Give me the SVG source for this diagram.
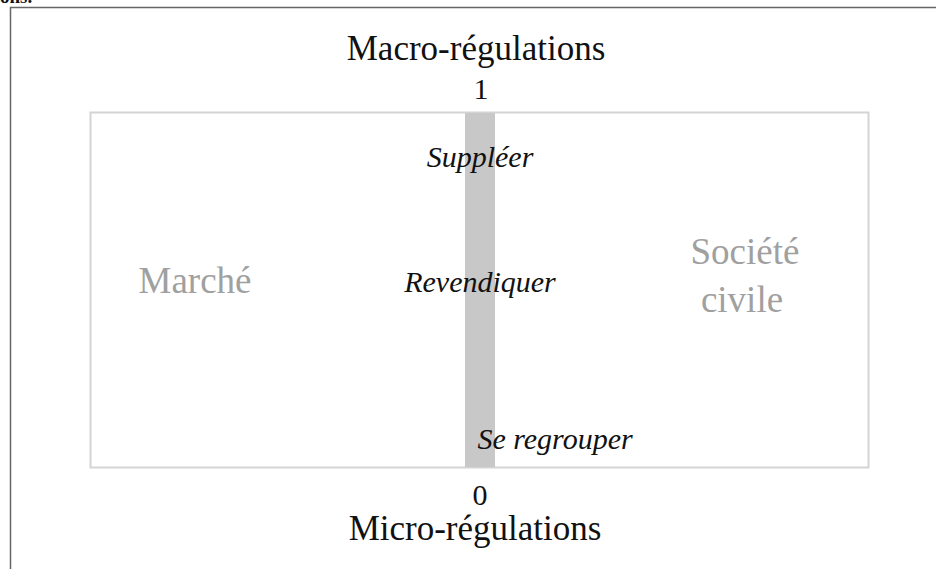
<svg xmlns="http://www.w3.org/2000/svg" width="936" height="569" viewBox="0 0 936 569">
<style>
.t{font-family:"Liberation Serif","Times New Roman",serif;fill:#111}
.i{font-style:italic;font-size:30px}
.g{fill:#a0a0a0;font-size:37px}
</style>
<rect width="936" height="569" fill="#fff"/>
<text class="t" x="0" y="3" font-size="19" font-weight="bold">ons.</text>
<path d="M10.5 569 V7.5 H936" fill="none" stroke="#666" stroke-width="1.5"/>
<g id="frame">
<rect x="90.5" y="112.5" width="778" height="355" fill="none" stroke="#d4d4d4" stroke-width="2"/>
</g>
<g id="band">
<rect x="465" y="113" width="30" height="354" fill="#c8c8c8"/>
</g>
<g id="connectors"></g>
<g id="top-label">
<text class="t" x="476" y="60" font-size="35" text-anchor="middle">Macro-régulations</text>
<text class="t" x="481" y="99" font-size="30" text-anchor="middle">1</text>
</g>
<g id="bottom-label">
<text class="t" x="480" y="505" font-size="30" text-anchor="middle">0</text>
<text class="t" x="475" y="540" font-size="35" text-anchor="middle">Micro-régulations</text>
</g>
<g id="marche"><text class="t g" x="195" y="293" text-anchor="middle">Marché</text></g>
<g id="societe">
<text class="t g" x="745" y="264" text-anchor="middle">Société</text>
<text class="t g" x="742" y="312" text-anchor="middle">civile</text>
</g>
<g id="suppleer"><text class="t i" x="480" y="167" text-anchor="middle">Suppléer</text></g>
<g id="revendiquer"><text class="t i" x="480" y="292" text-anchor="middle">Revendiquer</text></g>
<g id="regrouper"><text class="t i" x="555" y="449" text-anchor="middle">Se regrouper</text></g>
</svg>
